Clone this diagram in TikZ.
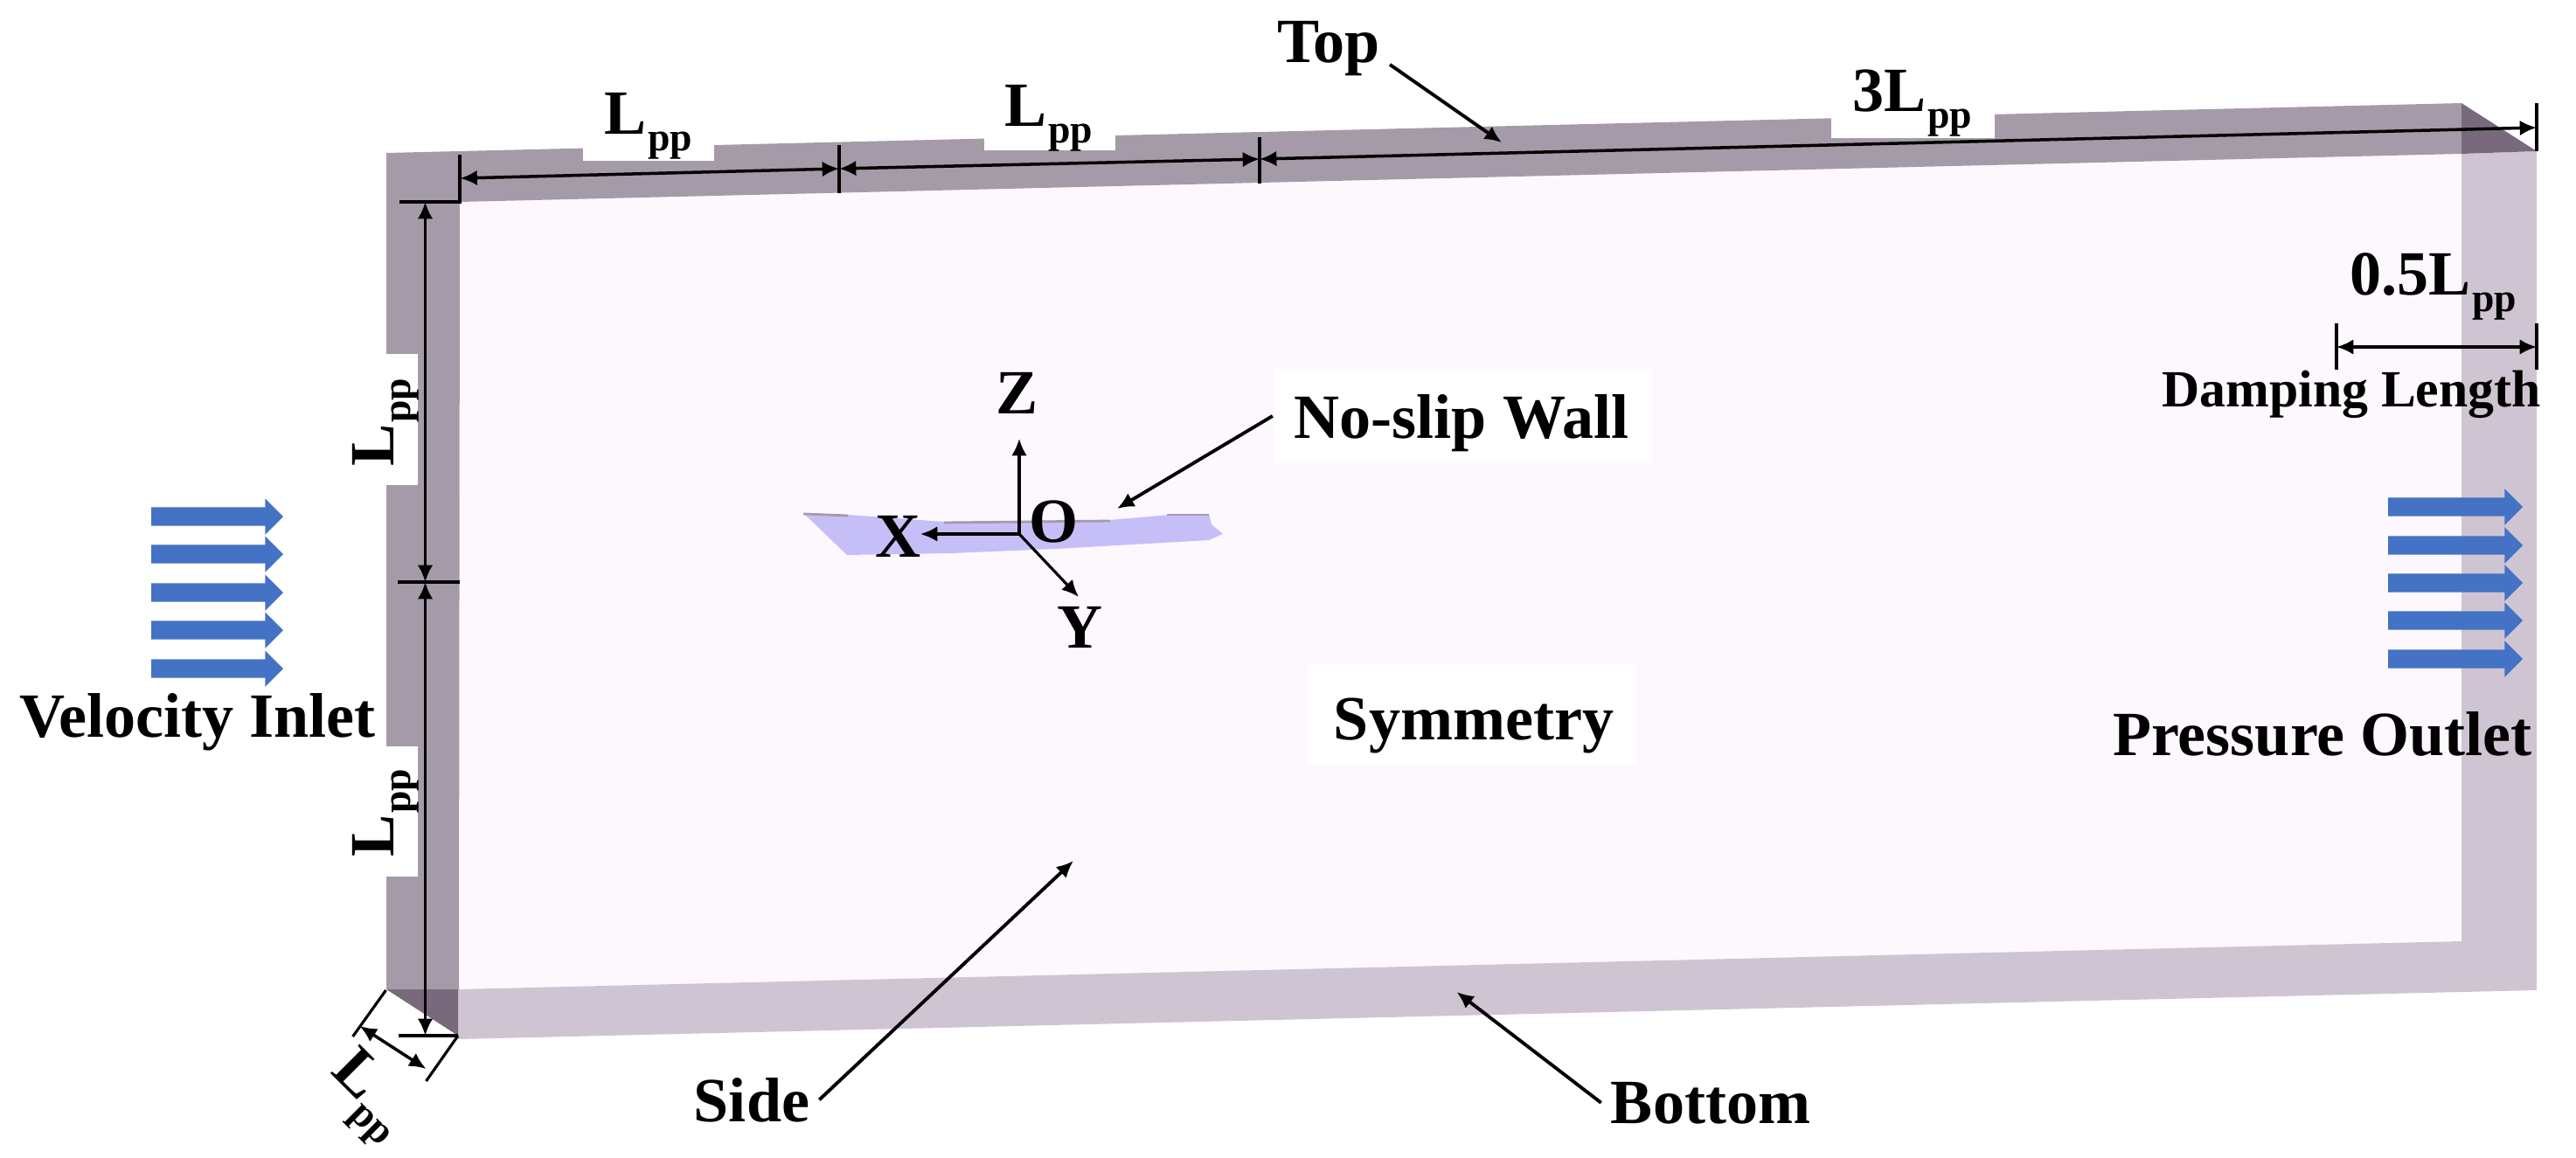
\documentclass[tikz,border=0pt]{standalone}
\usepackage{fontspec}
\setmainfont{Liberation Serif}
\usetikzlibrary{shapes.arrows,arrows.meta}
\definecolor{wallgrey}{HTML}{A59BA8}
\definecolor{walldark}{HTML}{786A7C}
\definecolor{walllight}{HTML}{CFC5D2}
\definecolor{faceface}{HTML}{FDF8FE}
\definecolor{hullblue}{HTML}{C6BFF7}
\definecolor{flowblue}{HTML}{4472C4}
\newcommand{\Lpp}{L\kern0.5pt\raisebox{-5.5pt}{\fontsize{13}{15}\selectfont pp}}
\tikzset{
	lab/.style={anchor=base,inner xsep=3pt,inner ysep=0pt,font=\fontsize{20.5}{25}\selectfont\bfseries},
	patch/.style={fill=white,inner sep=0pt},
	flowarrow/.style={shape=single arrow,anchor=tail,fill=flowblue,inner sep=0.1cm,single arrow head extend=0.1cm,minimum height=1.51cm,outer sep=0pt},
	dim/.style={<->,line width=1pt},
	tick/.style={line width=0.9pt},
	leader/.style={->,line width=1.1pt}
}
\begin{document}
\begin{tikzpicture}[x=1cm,y=-1cm,>={Latex[length=5.5pt,width=5pt]}]
	\useasboundingbox (0,0) rectangle (29.47,13.25);
	% faces of the domain
	\fill [faceface] (5.26,2.31) -- (28.16,1.76) -- (28.16,10.77) -- (5.24,11.32) -- cycle;
	\fill [walllight] (28.16,1.76) -- (29.02,1.73) -- (29.02,11.33) -- (5.24,11.89) -- (5.24,11.32) -- (28.16,10.77) -- cycle;
	\fill [wallgrey] (4.42,1.75) -- (28.16,1.18) -- (28.16,1.76) -- (5.26,2.31) -- (5.25,11.32) -- (4.42,11.32) -- cycle;
	\fill [walldark] (28.16,1.18) -- (29.02,1.73) -- (28.16,1.76) -- cycle;
	\fill [walldark] (4.42,11.32) -- (5.24,11.32) -- (5.24,11.85) -- cycle;
	% gaps left for the labels
	\fill [white] (6.67,1.4) rectangle (8.17,1.84);
	\fill [white] (11.26,1.3) rectangle (12.76,1.72);
	\fill [white] (20.95,1.2) rectangle (22.82,1.58);
	\fill [white] (4.3,4.05) rectangle (4.78,5.55);
	\fill [white] (4.3,8.54) rectangle (4.78,10.03);
	\node [patch,minimum width=4.33cm,minimum height=1.08cm] (noslipbox) at (16.73,4.76) {};
	\node [patch,minimum width=3.75cm,minimum height=1.15cm] (symbox) at (16.83,8.17) {};
	% hull
	\fill [hullblue] (9.19,5.87) -- (9.7,5.89) -- (10.8,5.97) -- (12.7,5.95) -- (13.5,5.88) -- (13.83,5.88) -- (13.86,6.0) -- (13.99,6.11) -- (13.83,6.18) -- (12.08,6.28) -- (10.88,6.33) -- (9.69,6.35) -- cycle;
	\draw [wallgrey,line width=0.8pt] (9.19,5.88) -- (9.7,5.9);
	\draw [wallgrey,line width=0.8pt] (10.8,5.98) -- (12.7,5.96);
	\draw [wallgrey,line width=0.8pt] (13.35,5.89) -- (13.83,5.89);
	% axes
	\coordinate (orig) at (11.66,6.11);
	\coordinate (ztip) at (11.66,5.02);
	\coordinate (xtip) at (10.53,6.11);
	\coordinate (ytip) at (12.34,6.83);
	\draw [leader,line width=0.9pt] (orig) -- (ztip);
	\draw [leader,line width=0.9pt] (orig) -- (xtip);
	\draw [leader,line width=0.9pt] (orig) -- (ytip);
	% top dimensions
	\coordinate (dtop0) at (5.265,2.04);
	\coordinate (dtop1) at (9.6,1.93);
	\coordinate (dtop2) at (14.41,1.82);
	\coordinate (dtop3) at (29.02,1.46);
	\draw [dim] (dtop0) -- (dtop1);
	\draw [dim] (dtop1) -- (dtop2);
	\draw [dim] (dtop2) -- (dtop3);
	\draw [tick] (4.57,2.31) -- (5.26,2.31) -- (5.26,1.77);
	\draw [tick] (9.6,1.66) -- (9.6,2.21);
	\draw [tick] (14.41,1.57) -- (14.41,2.1);
	\draw [tick] (29.02,1.18) -- (29.02,1.73);
	% left dimensions
	\coordinate (dleft0) at (4.865,2.31);
	\coordinate (dleft1) at (4.865,6.66);
	\coordinate (dleft2) at (4.865,11.85);
	\draw [dim] (dleft0) -- (dleft1);
	\draw [dim] (dleft1) -- (dleft2);
	\draw [tick] (4.55,6.66) -- (5.26,6.66);
	\draw [tick] (4.56,11.85) -- (5.24,11.85);
	% depth dimension
	\coordinate (ddep0) at (4.116,11.74);
	\coordinate (ddep1) at (4.875,12.23);
	\draw [dim] (ddep0) -- (ddep1);
	\draw [tick] (4.415,11.33) -- (4.036,11.86);
	\draw [tick] (5.24,11.85) -- (4.875,12.37);
	% damping length
	\coordinate (ddamp0) at (26.73,3.97);
	\coordinate (ddamp1) at (29.02,3.97);
	\draw [dim] (ddamp0) -- (ddamp1);
	\draw [tick] (26.73,3.7) -- (26.73,4.23);
	\draw [tick] (29.02,3.7) -- (29.02,4.23);
	% flow arrows
	\foreach \i/\y in {1/5.91,2/6.34,3/6.78,4/7.21,5/7.65}
		\node [flowarrow] (inlet\i) at (1.73,\y) {};
	\foreach \i/\y in {1/5.8,2/6.24,3/6.67,4/7.1,5/7.54}
		\node [flowarrow,minimum height=1.54cm] (outlet\i) at (27.32,\y) {};
	% labels
	\node [lab] (toplab) at (15.2,0.71) {Top};
	\node [lab] (lpptop1) at (7.42,1.53) {\Lpp};
	\node [lab] (lpptop2) at (12.0,1.44) {\Lpp};
	\node [lab] (lpptop3) at (21.88,1.27) {3\Lpp};
	\node [lab] (dampval) at (27.84,3.37) {0.5\Lpp};
	\node [lab,font=\fontsize{17}{20}\selectfont\bfseries] (damplab) at (26.9,4.65) {Damping Length};
	\node [lab] (noslip) at (16.72,5.01) {No-slip Wall};
	\node [lab] (zlab) at (11.64,4.73) {Z};
	\node [lab] (xlab) at (10.28,6.37) {X};
	\node [lab] (olab) at (12.06,6.2) {O};
	\node [lab] (ylab) at (12.36,7.41) {Y};
	\node [lab] (symlab) at (16.86,8.46) {Symmetry};
	\node [lab] (inletlab) at (2.26,8.43) {Velocity Inlet};
	\node [lab] (outletlab) at (26.57,8.64) {Pressure Outlet};
	\node [lab,rotate=90] (lppleft1) at (4.5,4.83) {\Lpp};
	\node [lab,rotate=90] (lppleft2) at (4.5,9.3) {\Lpp};
	\node [lab,rotate=-45] (lppdep) at (4.13,12.63) {\Lpp};
	\node [lab] (sidelab) at (8.6,12.83) {Side};
	\node [lab] (botlab) at (19.57,12.85) {Bottom};
	% pointers
	\coordinate (toptip) at (17.18,1.63);
	\coordinate (walltip) at (12.78,5.82);
	\coordinate (sidetip) at (12.28,9.85);
	\coordinate (bottip) at (16.665,11.35);
	\draw [leader] (toplab.-15) -- (toptip);
	\draw [leader] (noslipbox.west) -- (walltip);
	\draw [leader] (sidelab.east) -- (sidetip);
	\draw [leader] (botlab.west) -- (bottip);
\end{tikzpicture}
\end{document}
